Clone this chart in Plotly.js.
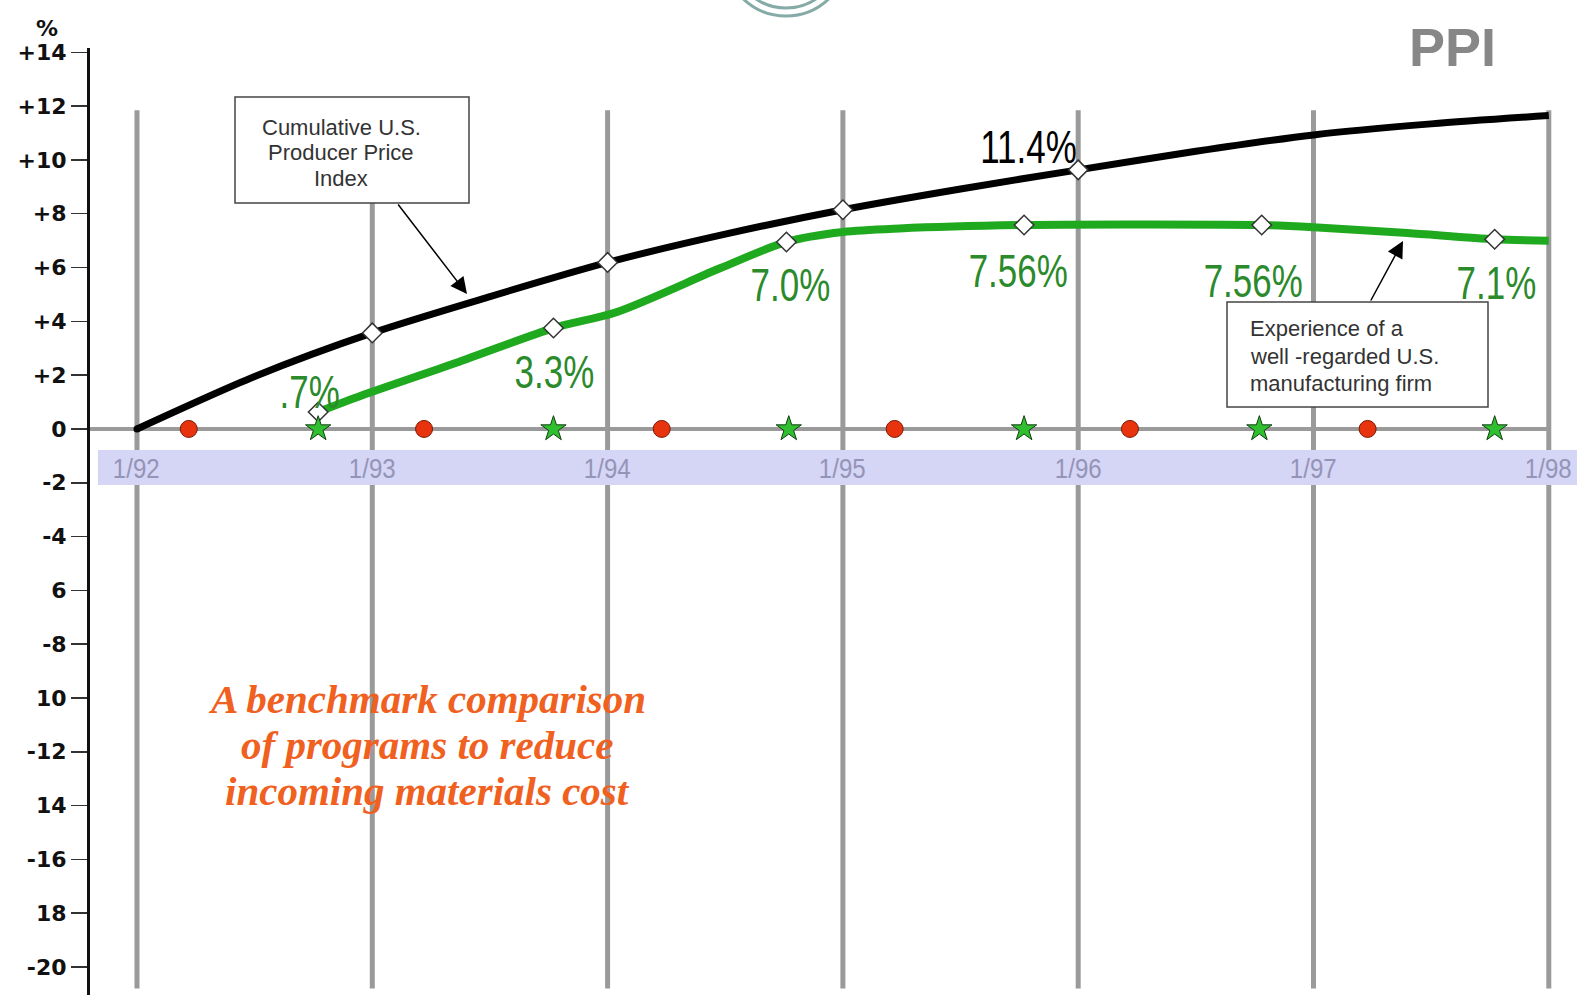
<!DOCTYPE html>
<html><head><meta charset="utf-8">
<script src="https://cdn.plot.ly/plotly-3.0.1.min.js"></script>
<style>html,body{margin:0;padding:0;background:#fff;}#chart{width:1577px;height:995px;}</style>
</head><body><div id="chart"></div>
<script>
// ---------------- data ----------------
const ppiYears  = [1992, 1992.5, 1993, 1993.5, 1994, 1994.5, 1995, 1995.5, 1996, 1996.5, 1997, 1997.5, 1998];
const ppiValues = [0, 1.95, 3.57, 4.92, 6.19, 7.24, 8.15, 8.92, 9.63, 10.32, 10.93, 11.34, 11.65];
const ppiMarkYears  = [1993, 1994, 1995, 1996];
const ppiMarkValues = [3.57, 6.19, 8.15, 9.63];
const ppiLabel = '11.4%';

const firmYears  = [1992.77, 1992.96, 1993.37, 1993.77, 1994.04, 1994.48, 1994.76, 1995.0, 1995.24, 1995.77, 1996.2, 1996.78, 1997.0, 1997.4, 1997.77, 1998.0];
const firmValues = [0.63, 1.26, 2.5, 3.75, 4.35, 5.98, 6.95, 7.32, 7.45, 7.58, 7.6, 7.58, 7.5, 7.28, 7.05, 7.0];
const firmMarkYears  = [1992.77, 1993.77, 1994.76, 1995.77, 1996.78, 1997.77];
const firmMarkValues = [0.63, 3.75, 6.95, 7.58, 7.58, 7.05];
const firmLabels = ['.7%', '3.3%', '7.0%', '7.56%', '7.56%', '7.1%'];

const redDotYears  = [1992.22, 1993.22, 1994.23, 1995.22, 1996.22, 1997.23];
const redDotValues = [0, 0, 0, 0, 0, 0];
const starYears  = [1992.77, 1993.77, 1994.77, 1995.77, 1996.77, 1997.77];
const starValues = [0, 0, 0, 0, 0, 0];

const gridYears   = [1992, 1993, 1994, 1995, 1996, 1997, 1998];
const xTickLabels = ['1/92', '1/93', '1/94', '1/95', '1/96', '1/97', '1/98'];
const yTickVals = [14, 12, 10, 8, 6, 4, 2, 0, -2, -4, -6, -8, -10, -12, -14, -16, -18, -20];
const yTickText = ['+14', '+12', '+10', '+8', '+6', '+4', '+2', '0', '-2', '-4', '6', '-8', '10', '-12', '14', '-16', '18', '-20'];

const ppiBoxLines  = ['Cumulative U.S.', 'Producer Price', 'Index'];
const firmBoxLines = ['Experience of a', 'well -regarded U.S.', 'manufacturing firm'];
const noteLines = ['A benchmark comparison', 'of programs to reduce', 'incoming materials cost'];

// ---------------- layout geometry ----------------
const W = 1577, H = 995, ML = 90, MR = 0, MT = 48, MB = 0;
const xr = [1991.8003, 1998.1199];
const yr = [-21.04, 14.16];
const X = px => xr[0] + (px - ML) / (W - ML - MR) * (xr[1] - xr[0]);
const Y = py => yr[1] - (py - MT) / (H - MT - MB) * (yr[1] - yr[0]);
const PX = px => (px - ML) / (W - ML - MR);
const PY = py => (H - MB - py) / (H - MT - MB);

const sans = 'Liberation Sans, Arial, sans-serif';

// label offsets (pixels) relative to the diamonds
const firmLabelShift = [[-9, 20], [1, -44], [4, -43], [-6, -46], [-9, -56], [2, -44]];

const shapes = [];
gridYears.forEach(g => shapes.push({type: 'line', xref: 'x', yref: 'y', x0: g, x1: g, y0: -20.8, y1: 11.85,
  line: {color: '#9a9a9a', width: 5}, layer: 'below'}));
shapes.push({type: 'rect', xref: 'x', yref: 'y', x0: X(98), x1: X(1577), y0: Y(485), y1: Y(450),
  fillcolor: '#d5d5f6', line: {width: 0}, layer: 'below'});
shapes.push({type: 'line', xref: 'x', yref: 'y', x0: xr[0], x1: 1998, y0: 0, y1: 0,
  line: {color: '#9a9a9a', width: 4}, layer: 'below'});
shapes.push({type: 'rect', xref: 'x', yref: 'y', x0: X(235), x1: X(469), y0: Y(203), y1: Y(97),
  fillcolor: '#fff', line: {color: '#444', width: 1.5}, layer: 'below'});
shapes.push({type: 'rect', xref: 'x', yref: 'y', x0: X(1227), x1: X(1488), y0: Y(407), y1: Y(302),
  fillcolor: '#fff', line: {color: '#444', width: 1.5}, layer: 'below'});
// logo rings at top centre
[[62, 3], [54, 3]].forEach(([r, w]) => shapes.push({type: 'circle', xref: 'paper', yref: 'paper',
  x0: PX(786 - r), x1: PX(786 + r), y0: PY(-46 + r), y1: PY(-46 - r),
  line: {color: '#86aaa6', width: w}}));

const annotations = [];
const narrowIdx = {}; // annotation index -> horizontal squeeze factor
gridYears.forEach((g, i) => { narrowIdx[annotations.length] = 0.86; annotations.push({x: g, y: Y(468), xref: 'x', yref: 'y',
  text: xTickLabels[i], showarrow: false, xanchor: 'center', yanchor: 'middle',
  font: {family: sans, size: 28, color: '#9494b6'}}); });
firmLabels.forEach((t, i) => { narrowIdx[annotations.length] = 0.76; annotations.push({x: firmMarkYears[i], y: firmMarkValues[i],
  xref: 'x', yref: 'y', text: t, showarrow: false, xanchor: 'center', yanchor: 'middle',
  xshift: firmLabelShift[i][0], yshift: firmLabelShift[i][1],
  font: {family: sans, size: 46, color: '#2b8a2b'}}); });
narrowIdx[annotations.length] = 0.76;
annotations.push({x: ppiMarkYears[3], y: ppiMarkValues[3], xref: 'x', yref: 'y', text: ppiLabel, showarrow: false,
  xanchor: 'center', yanchor: 'middle', xshift: -50, yshift: 23, font: {family: sans, size: 46, color: '#000'}});
const box1Y = [127, 152, 178];
ppiBoxLines.forEach((t, i) => annotations.push({x: X(341), y: Y(box1Y[i]), xref: 'x', yref: 'y', text: t, showarrow: false,
  xanchor: 'center', yanchor: 'middle', font: {family: sans, size: 22, color: '#333'}}));
const box2Y = [328, 356, 383];
firmBoxLines.forEach((t, i) => annotations.push({x: X(1248), y: Y(box2Y[i]), xref: 'x', yref: 'y', text: t, showarrow: false,
  xanchor: 'left', yanchor: 'middle', font: {family: sans, size: 22, color: '#333'}}));
annotations.push({x: X(467), y: Y(294), xref: 'x', yref: 'y', text: '', showarrow: true, ax: -70, ay: -91,
  arrowhead: 2, arrowsize: 2.2, arrowwidth: 1.5, arrowcolor: '#000', standoff: 0});
annotations.push({x: X(1403), y: Y(241), xref: 'x', yref: 'y', text: '', showarrow: true, ax: -33, ay: 61,
  arrowhead: 2, arrowsize: 2.2, arrowwidth: 1.5, arrowcolor: '#000', standoff: 0});
const noteY = [699, 745, 791];
noteLines.forEach((t, i) => annotations.push({x: X(427), y: Y(noteY[i]), xref: 'x', yref: 'y', text: t, showarrow: false,
  xanchor: 'center', yanchor: 'middle',
  font: {family: 'Liberation Serif, Times New Roman, serif', size: 41, color: '#f0601e', weight: 'bold', style: 'italic'}}));
annotations.push({x: PX(47), y: PY(28), xref: 'paper', yref: 'paper', text: '%', showarrow: false,
  xanchor: 'center', yanchor: 'middle', font: {family: 'DejaVu Sans, sans-serif', size: 22, color: '#111', weight: 'bold'}});
annotations.push({x: PX(1452), y: PY(47), xref: 'paper', yref: 'paper', text: 'PPI', showarrow: false,
  xanchor: 'center', yanchor: 'middle', font: {family: sans, size: 54, color: '#878787', weight: 'bold'}});

const traces = [
  {x: ppiYears, y: ppiValues, type: 'scatter', mode: 'lines', line: {color: '#000', width: 7, shape: 'spline', smoothing: 0.8}},
  {x: [ppiYears[0]], y: [ppiValues[0]], type: 'scatter', mode: 'markers', marker: {color: '#000', size: 7}},
  {x: firmYears, y: firmValues, type: 'scatter', mode: 'lines', line: {color: '#1fa91f', width: 8, shape: 'spline', smoothing: 0.8}},
  {x: ppiMarkYears, y: ppiMarkValues, type: 'scatter', mode: 'markers',
    marker: {symbol: 'diamond', size: 15, color: '#fff', line: {color: '#333', width: 1.5}}},
  {x: firmMarkYears, y: firmMarkValues, type: 'scatter', mode: 'markers',
    marker: {symbol: 'diamond', size: 15, color: '#fff', line: {color: '#333', width: 1.5}}},
  {x: redDotYears, y: redDotValues, type: 'scatter', mode: 'markers',
    marker: {symbol: 'circle', size: 17, color: '#e8330f', line: {color: '#7a1a05', width: 1}}},
  {x: starYears, y: starValues, type: 'scatter', mode: 'markers',
    marker: {symbol: 'star', size: 19, color: '#2fbf2f', line: {color: '#123f12', width: 1}}}
];

const layout = {
  width: W, height: H, margin: {l: ML, r: MR, t: MT, b: MB, pad: 0},
  paper_bgcolor: '#fff', plot_bgcolor: '#fff', showlegend: false, hovermode: false,
  xaxis: {range: xr, visible: false, fixedrange: true},
  yaxis: {range: yr, tickmode: 'array', tickvals: yTickVals, ticktext: yTickText, ticks: 'outside', ticklen: 16,
    tickwidth: 1.5, tickcolor: '#333', showline: true, linecolor: '#111', linewidth: 3, showgrid: false,
    zeroline: false, fixedrange: true, tickfont: {family: 'DejaVu Sans, sans-serif', size: 22, color: '#111', weight: 'bold'}},
  shapes: shapes, annotations: annotations
};
Plotly.newPlot('chart', traces, layout, {staticPlot: true, displayModeBar: false}).then(gd => {
  // squeeze the condensed labels horizontally around their centres
  gd.querySelectorAll('g.annotation').forEach(g => {
    const idx = g.getAttribute('data-index');
    if (!(idx in narrowIdx)) return;
    const t = g.querySelector('text.annotation-text');
    if (!t) return;
    const bb = t.getBBox();
    const cx = bb.x + bb.width / 2;
    const prev = t.getAttribute('transform') || '';
    t.setAttribute('transform', prev + ` translate(${cx},0) scale(${narrowIdx[idx]},1) translate(${-cx},0)`);
  });
});
</script></body></html>
